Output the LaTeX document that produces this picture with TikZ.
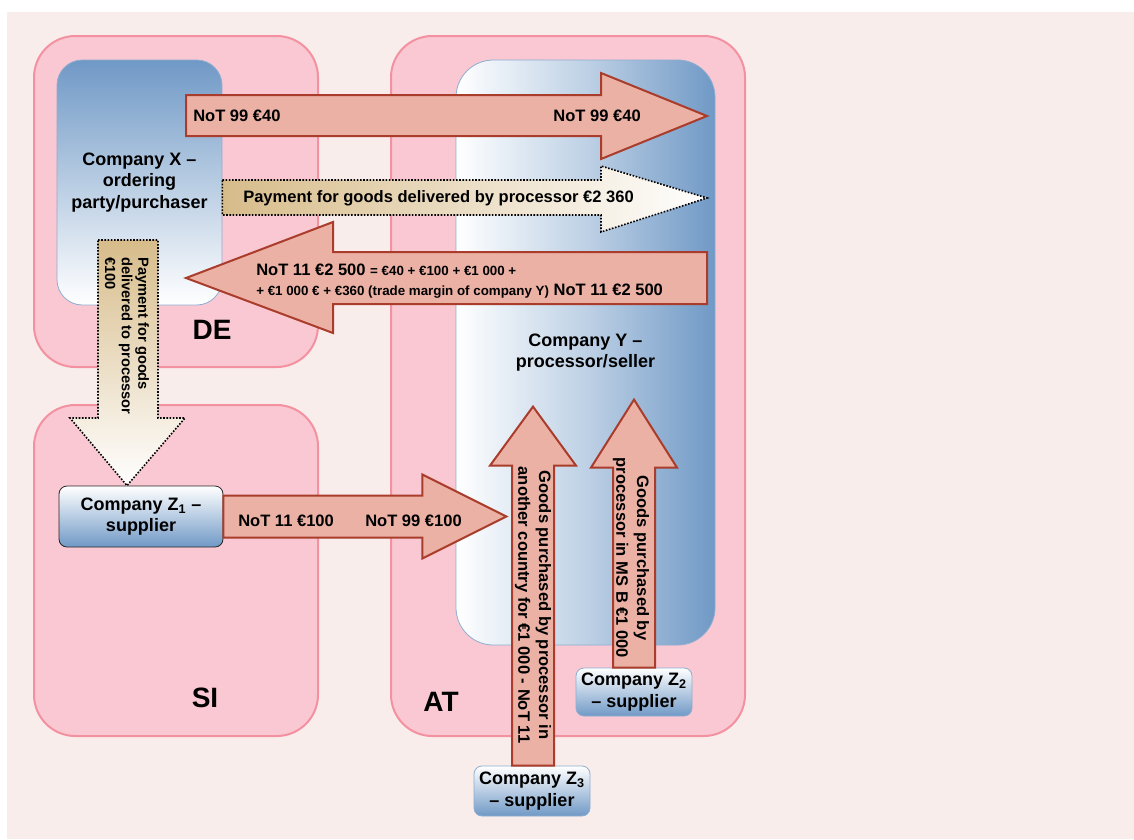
\documentclass[tikz,border=0pt]{standalone}
\usepackage{fontspec}
\setmainfont{Liberation Sans}
\usetikzlibrary{calc}
\definecolor{bgpink}{HTML}{F9EDEB}
\definecolor{landpink}{HTML}{FAC8D2}
\definecolor{landline}{HTML}{F391A0}
\definecolor{coblue}{HTML}{7099C6}
\definecolor{arrowfill}{HTML}{EBB1A5}
\definecolor{arrowline}{HTML}{A93C2A}
\definecolor{paytan}{HTML}{D7BC8A}

\begin{document}
\begin{tikzpicture}[x=0.75pt,y=-0.75pt,
    country/.style={draw=landline,line width=1.5pt,fill=landpink,rounded corners=31pt},
    company/.style={draw=coblue!80,line width=0.6pt,align=center,inner sep=1pt,font=\fontsize{13.5}{16}\selectfont\bfseries},
    supplier/.style={company,rounded corners=6pt,top color=white,bottom color=coblue},
    goods/.style={draw=arrowline,line width=1.5pt,fill=arrowfill},
    payment/.style={draw=black,line width=1.2pt,dash pattern=on 1.2pt off 1.2pt},
    lbl/.style={inner sep=0pt,font=\fontsize{12.4}{15.5}\selectfont\bfseries},
    small/.style={font=\fontsize{10}{12}\selectfont\bfseries},
    land/.style={inner sep=0pt,font=\fontsize{21}{24}\selectfont\bfseries}]
        \useasboundingbox (0,0) rectangle (1134,839);
        \fill[bgpink] (7,12) rectangle (1134,839);

        % countries
        \node (DE) at (176,201.5) [country,minimum width=213pt,minimum height=248.25pt] {};
        \node (SI) at (176,570.5) [country,minimum width=213pt,minimum height=248.25pt] {};
        \node (AT) at (568,386) [country,minimum width=265.5pt,minimum height=525pt] {};

        % companies
        \node (X) at (139.5,182.5) [company,rounded corners=19pt,top color=coblue,bottom color=white,
            minimum width=123.75pt,minimum height=183.75pt] {Company X --\\ordering\\party/purchaser};
        \node (Y) at (585.5,352.5) [company,rounded corners=28pt,left color=white,right color=coblue,
            middle color=coblue!45,minimum width=194.25pt,minimum height=438.75pt] {Company Y --\\processor/seller};
        \node (Z1) at (141,516.5) [supplier,draw=black!85,minimum width=123pt,minimum height=45.75pt] {Company Z\textsubscript{1} --\\supplier};
        \node (Z2) at (634,692) [supplier,minimum width=87pt,minimum height=36pt] {Company Z\textsubscript{2}\\-- supplier};
        \node (Z3) at (532,791) [supplier,minimum width=87pt,minimum height=37.5pt] {Company Z\textsubscript{3}\\-- supplier};

        % block arrows
        \draw[goods] (186,95) -- (601,95) -- (601,73) -- (707,116) -- (601,159) -- (601,136) -- (186,136) -- cycle;
        \draw[payment,left color=paytan,right color=white] (X.east |- 0,180) -- (601,180) -- (601,166) -- (707,198)
            -- (601,232) -- (601,215) -- (X.east |- 0,215) -- cycle;
        \draw[goods] (186,278) -- (333,222) -- (333,252) -- (707,252) -- (707,304) -- (333,304) -- (333,333) -- cycle;
        \draw[payment,top color=paytan,bottom color=white] (98,240) -- (158,240) -- (158,418) -- (185,418)
            -- (Z1.north -| 127,0) -- (70,418) -- (98,418) -- cycle;
        \draw[goods] (Z1.east) ++(0,-21) -- ++(199,0) -- ++(0,-21) -- ++(84,42) -- ++(-84,42) -- ++(0,-21) -- ++(-199,0) -- cycle;
        \draw[goods] (Z3.north) ++(-20,0) -- ++(0,-300) -- ++(-22,0) -- ++(43,-59) -- ++(43,59) -- ++(-22,0) -- ++(0,300) -- cycle;
        \draw[goods] (Z2.north) ++(-21,0) -- ++(0,-200) -- ++(-22,0) -- ++(43,-68) -- ++(43,68) -- ++(-22,0) -- ++(0,200) -- cycle;

        % labels
        \node (L99a) at (193,116) [lbl,anchor=west] {NoT 99 €40};
        \node (L99b) at (641,116) [lbl,anchor=east] {NoT 99 €40};
        \node (Lpay) at (243,198) [lbl,anchor=west] {Payment for goods delivered by processor €2 360};
        \node (L11a) at (256,275) [lbl,anchor=base west] {NoT 11 €2 500 {\fontsize{10}{12}\selectfont = €40 + €100 + €1 000 +}};
        \node (L11b) at (256,295) [lbl,anchor=base west] {{\fontsize{10}{12}\selectfont + €1 000 € + €360 (trade margin of company Y)} NoT 11 €2 500};
        \node (L100) at (127,257) [lbl,font=\fontsize{11}{12.4}\selectfont\bfseries,rotate=-90,anchor=west,align=left]
            {Payment for goods\\delivered to processor\\€100};
        \node (LZ1a) at (238,521) [lbl,anchor=west] {NoT 11 €100};
        \node (LZ1b) at (365,521) [lbl,anchor=west] {NoT 99 €100};
        \node (LZ3) at (533,605) [lbl,rotate=-90,align=center] {Goods purchased by processor in\\another country for €1 000 - NoT 11};
        \node (LZ2) at (631,558) [lbl,rotate=-90,align=center] {Goods purchased by\\processor in MS B €1 000};

        \node (LDE) at (212,330) [land] {DE};
        \node (LSI) at (205,698) [land] {SI};
        \node (LAT) at (441,702) [land] {AT};
    \end{tikzpicture}
\end{document}
